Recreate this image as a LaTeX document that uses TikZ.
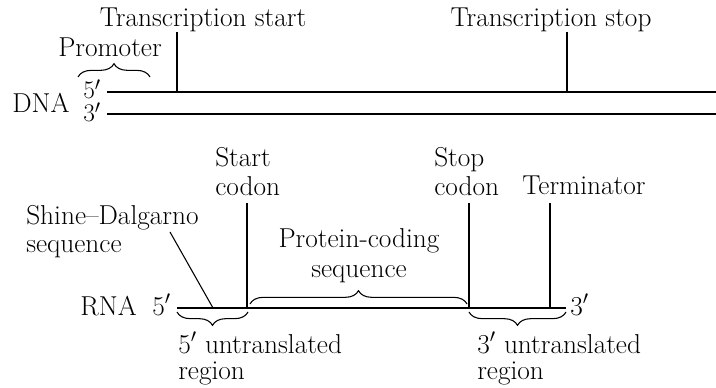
\documentclass[tikz,border=0pt]{standalone}
\usetikzlibrary{decorations.pathreplacing}
\begin{document}
\begin{tikzpicture}[x=0.75pt,y=-0.75pt,
  lbl/.style={inner sep=0pt, font=\fontsize{20.5}{21}\selectfont},
  strand/.style={line width=2.2pt},
  tick/.style={line width=0.8pt},
  brc/.style={line width=0.8pt, decorate, decoration={brace, amplitude=#1}},
  brc/.default=10pt]
\useasboundingbox (0,0) rectangle (716,388);
% DNA
\node[lbl, anchor=base] (ts) at (203,27) {Transcription start};
\node[lbl, anchor=base] (tst) at (551,27) {Transcription stop};
\node[lbl, anchor=base] (prom) at (110,57) {Promoter};
\node[lbl, anchor=base west] (dna) at (12,113) {DNA};
\node[lbl, anchor=base west, font=\fontsize{19}{21}\selectfont] (d5) at (83,99) {5$'$};
\node[lbl, anchor=base west, font=\fontsize{19}{21}\selectfont] (d3) at (83,122) {3$'$};
\coordinate (t1) at (107,92); \coordinate (t2) at (716,92);
\coordinate (b1) at (107,114); \coordinate (b2) at (716,114);
\draw[strand] (t1) -- (t2);
\draw[strand] (b1) -- (b2);
\coordinate (tsa) at (177,32); \coordinate (tsb) at (177,92);
\coordinate (tpa) at (567,32); \coordinate (tpb) at (567,92);
\draw[tick] (tsa) -- (tsb);
\draw[tick] (tpa) -- (tpb);
\coordinate (pr1) at (78,77); \coordinate (pr2) at (150,77);
\draw[brc=10pt] (pr1) -- (pr2);
% RNA
\node[lbl, anchor=base west] (rna) at (80,315) {RNA};
\node[lbl, anchor=base west] (r5) at (152,315) {5$'$};
\node[lbl, anchor=base west] (r3) at (570,315) {3$'$};
\coordinate (r1) at (177,308); \coordinate (r2) at (566,308);
\draw[strand] (r1) -- (r2);
\node[lbl, anchor=base west] (sd) at (26,224) {\begin{tabular}[t]{@{}l@{}}Shine--Dalgarno\\sequence\end{tabular}};
\coordinate (sda) at (170,232); \coordinate (sdb) at (213,308);
\draw[tick] (sda) -- (sdb);
\node[lbl, anchor=base west] (stc) at (215,167) {\begin{tabular}[t]{@{}l@{}}Start\\codon\end{tabular}};
\coordinate (sca) at (247,203); \coordinate (scb) at (247,308);
\draw[tick] (sca) -- (scb);
\node[lbl, anchor=base west] (spc) at (434,167) {\begin{tabular}[t]{@{}l@{}}Stop\\codon\end{tabular}};
\coordinate (spa) at (469,203); \coordinate (spb) at (469,308);
\draw[tick] (spa) -- (spb);
\node[lbl, anchor=base west] (term) at (522,195) {Terminator};
\coordinate (tea) at (550,203); \coordinate (teb) at (550,308);
\draw[tick] (tea) -- (teb);
\node[lbl, anchor=base, font=\fontsize{20.5}{22.5}\selectfont] (pcs) at (359,247) {\begin{tabular}[t]{@{}c@{}}Protein-coding\\sequence\end{tabular}};
\coordinate (pc1) at (250,304); \coordinate (pc2) at (467,304);
\draw[brc=10pt] (pc1) -- (pc2);
\coordinate (u51) at (248,312); \coordinate (u52) at (177,312);
\draw[brc=10pt] (u51) -- (u52);
\node[lbl, anchor=base west, font=\fontsize{20.5}{20}\selectfont] (u5) at (178,353) {\begin{tabular}[t]{@{}l@{}}5$'$ untranslated\\region\end{tabular}};
\coordinate (u31) at (566,312); \coordinate (u32) at (469,312);
\draw[brc=10pt] (u31) -- (u32);
\node[lbl, anchor=base west, font=\fontsize{20.5}{20}\selectfont] (u3) at (477,353) {\begin{tabular}[t]{@{}l@{}}3$'$ untranslated\\region\end{tabular}};
\end{tikzpicture}
\end{document}
